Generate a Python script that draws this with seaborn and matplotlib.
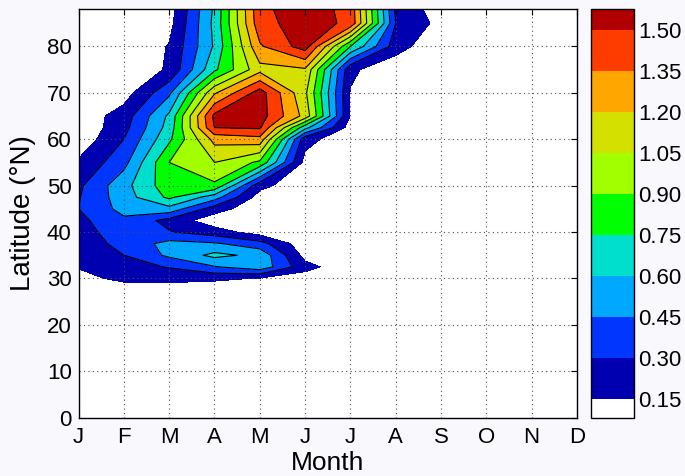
import numpy as np
import pandas as pd
import matplotlib
matplotlib.use("Agg")
import matplotlib.pyplot as plt
import seaborn as sns

# month axis
month_labels = ["J", "F", "M", "A", "M", "J", "J", "A", "S", "O", "N", "D"]
month_num = list(range(1, 13))

# latitude rows of the field (deg N)
lats = [25, 27.5, 30, 32.5, 35, 37.5, 40, 42.5, 45, 47.5, 50,
        55, 60, 62.5, 65, 70, 75, 80, 85, 90]

# values, one row per latitude, Jan..Dec
v25   = [0.00, 0.00, 0.00, 0.00, 0.00, 0.00, 0.00, 0.00, 0.00, 0.00, 0.00, 0.00]
v27_5 = [0.03, 0.06, 0.06, 0.05, 0.04, 0.02, 0.00, 0.00, 0.00, 0.00, 0.00, 0.00]
v30   = [0.10, 0.19, 0.20, 0.18, 0.14, 0.08, 0.02, 0.00, 0.00, 0.00, 0.00, 0.00]
v32_5 = [0.16, 0.24, 0.31, 0.44, 0.55, 0.20, 0.05, 0.00, 0.00, 0.00, 0.00, 0.00]
v35   = [0.19, 0.30, 0.48, 0.64, 0.56, 0.10, 0.02, 0.00, 0.00, 0.00, 0.00, 0.00]
v37_5 = [0.21, 0.35, 0.50, 0.47, 0.36, 0.05, 0.00, 0.00, 0.00, 0.00, 0.00, 0.00]
v40   = [0.24, 0.38, 0.31, 0.22, 0.08, 0.02, 0.00, 0.00, 0.00, 0.00, 0.00, 0.00]
v42_5 = [0.26, 0.42, 0.25, 0.06, 0.03, 0.00, 0.00, 0.00, 0.00, 0.00, 0.00, 0.00]
v45   = [0.30, 0.50, 0.55, 0.22, 0.04, 0.00, 0.00, 0.00, 0.00, 0.00, 0.00, 0.00]
v47_5 = [0.29, 0.53, 0.78, 0.52, 0.08, 0.00, 0.00, 0.00, 0.00, 0.00, 0.00, 0.00]
v50   = [0.27, 0.55, 0.84, 0.87, 0.20, 0.03, 0.00, 0.00, 0.00, 0.00, 0.00, 0.00]
v55   = [0.17, 0.40, 0.90, 1.05, 0.87, 0.10, 0.00, 0.00, 0.00, 0.00, 0.00, 0.00]
v60   = [0.05, 0.30, 0.72, 1.25, 1.30, 0.20, 0.05, 0.00, 0.00, 0.00, 0.00, 0.00]
v62_5 = [0.03, 0.25, 0.66, 1.50, 1.52, 0.65, 0.08, 0.00, 0.00, 0.00, 0.00, 0.00]
v65   = [0.05, 0.22, 0.63, 1.54, 1.57, 1.15, 0.14, 0.02, 0.00, 0.00, 0.00, 0.00]
v70   = [0.02, 0.08, 0.42, 1.18, 1.57, 1.08, 0.14, 0.02, 0.00, 0.00, 0.00, 0.00]
v75   = [0.01, 0.03, 0.17, 0.72, 1.15, 1.18, 0.18, 0.04, 0.00, 0.00, 0.00, 0.00]
v80   = [0.00, 0.02, 0.16, 0.62, 1.33, 1.57, 0.75, 0.22, 0.02, 0.00, 0.00, 0.00]
v85   = [0.00, 0.01, 0.10, 0.64, 1.45, 1.57, 1.47, 0.30, 0.10, 0.00, 0.00, 0.00]
v90   = [0.00, 0.00, 0.07, 0.62, 1.48, 1.57, 1.45, 0.25, 0.05, 0.00, 0.00, 0.00]

rows = [v25, v27_5, v30, v32_5, v35, v37_5, v40, v42_5, v45, v47_5, v50,
        v55, v60, v62_5, v65, v70, v75, v80, v85, v90]

# contour levels / colorbar
levels = [0.08, 0.15, 0.30, 0.45, 0.60, 0.75, 0.90, 1.05, 1.20, 1.35, 1.50, 1.575]
cbar_ticks = [0.15, 0.30, 0.45, 0.60, 0.75, 0.90, 1.05, 1.20, 1.35, 1.50]
fill_colors = ["#ffffff", "#0000b0", "#0036ff", "#00a8ff", "#00dfce", "#00ff00",
               "#a2ff00", "#d4e100", "#ffa600", "#ff3c00", "#b00000"]

# long form -> grid
df = pd.DataFrame([(lat, m, val) for lat, r in zip(lats, rows)
                   for m, val in zip(month_num, r)],
                  columns=["lat", "month", "value"])
grid = df.pivot(index="lat", columns="month", values="value")

sns.set_style("white")
plt.rcParams["font.family"] = ["Liberation Sans", "DejaVu Sans"]
plt.rcParams["text.color"] = "black"
plt.rcParams["axes.labelcolor"] = "black"
plt.rcParams["xtick.color"] = "black"
plt.rcParams["ytick.color"] = "black"

fig = plt.figure(figsize=(6.85, 4.76), dpi=100)
fig.patch.set_facecolor("#f8f8fd")
ax = fig.add_axes([0.1147, 0.1225, 0.7276, 0.858])
cax = fig.add_axes([0.8623, 0.1225, 0.0637, 0.858])
ax.set_facecolor("white")

cf = ax.contourf(grid.columns.values, grid.index.values, grid.values,
                 levels=levels, colors=fill_colors)
ax.contour(grid.columns.values, grid.index.values, grid.values,
           levels=levels[2:-1], colors="black", linewidths=0.8)

ax.set_xlim(1, 12)
ax.set_ylim(0, 88)
ax.set_xticks(month_num)
ax.set_xticklabels(month_labels)
ax.set_yticks(range(0, 90, 10))
ax.tick_params(direction="in", length=4, width=0.8, top=True, right=True,
               labelsize=16, colors="black")
ax.tick_params(axis="x", pad=7)
ax.tick_params(axis="y", pad=5)
ax.grid(True, linestyle=(0, (1, 3)), color="0.3", linewidth=0.8)
ax.set_axisbelow(False)
for s in ax.spines.values():
    s.set_color("black")
    s.set_linewidth(1.0)
    s.set_zorder(5)

ax.set_xlabel("Month", fontsize=19, labelpad=2)
ax.set_ylabel("Latitude (°N)", fontsize=20, labelpad=8)

cb = fig.colorbar(cf, cax=cax, ticks=cbar_ticks, spacing="proportional")
cb.ax.set_yticklabels([f"{t:.2f}" for t in cbar_ticks])
cb.ax.tick_params(direction="in", length=3, width=0.8, left=True, right=True,
                  labelsize=16, pad=3, colors="black")
cb.outline.set_edgecolor("black")
cb.outline.set_linewidth(1.0)

fig.savefig("out.png", dpi=100, facecolor=fig.get_facecolor())
